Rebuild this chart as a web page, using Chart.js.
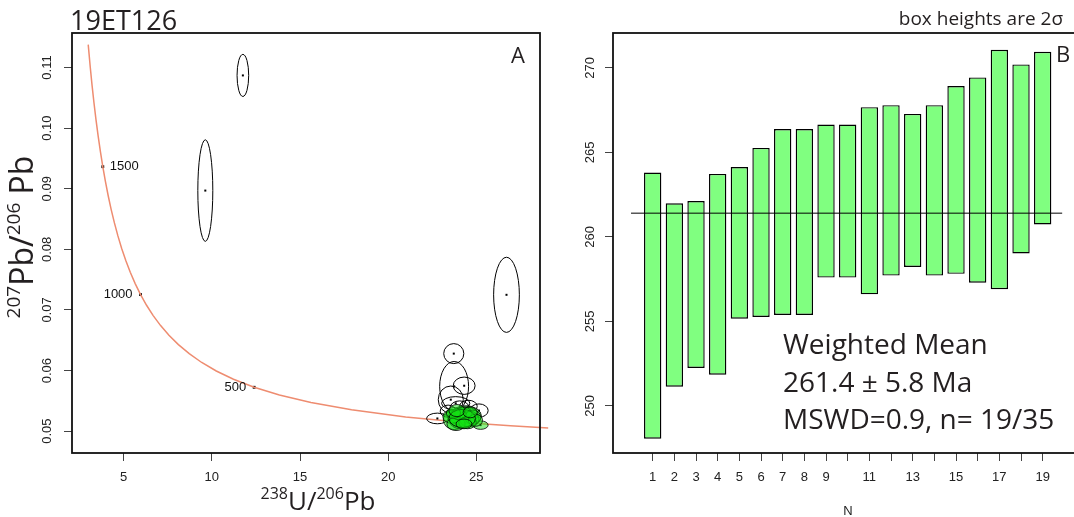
<!DOCTYPE html>
<html>
<head>
<meta charset="utf-8">
<script src="https://cdn.jsdelivr.net/npm/chart.js@4.4.0/dist/chart.umd.min.js"></script>
<style>
html, body { margin: 0; padding: 0; background: #fff; overflow: hidden; width: 1074px; height: 517px; }
#left { position: absolute; left: 0; top: 0; }
#right { position: absolute; left: 560px; top: 0; }
</style>
</head>
<body>
<canvas id="left" width="560" height="517"></canvas>
<canvas id="right" width="520" height="517"></canvas>
<script>
var sampleName = "19ET126";

// Tera-Wasserburg panel (A)
var xTicksTW = [5, 10, 15, 20, 25];
var yTicksTW = [0.05, 0.06, 0.07, 0.08, 0.09, 0.10, 0.11];
var concordiaAges = [1860, 1800, 1750, 1700, 1650, 1600, 1550, 1500, 1450, 1400, 1350, 1300, 1250, 1200,
    1150, 1100, 1050, 1000, 950, 900, 850, 800, 750, 700, 650, 600, 550, 500, 450, 400, 350, 300, 275, 250, 235, 218];
var ageMarks = [1500, 1000, 500];

// rejected analyses (open ellipses): centre and half-axes
var rejX  = [11.76, 9.63, 26.71, 23.72, 23.74, 24.31, 23.55, 22.79, 25.15, 23.83, 24.05, 24.55, 23.40];
var rejY  = [0.1087, 0.0897, 0.0725, 0.0628, 0.0574, 0.0575, 0.0552, 0.0521, 0.0534, 0.0546, 0.0538, 0.0541, 0.0533];
var rejSx = [0.33, 0.425, 0.73, 0.57, 0.82, 0.62, 0.71, 0.61, 0.52, 0.80, 0.55, 0.50, 0.45];
var rejSy = [0.00347, 0.00838, 0.0062, 0.00165, 0.0041, 0.00143, 0.00225, 0.00088, 0.0011, 0.0011, 0.0012, 0.0010, 0.0010];

// analyses used in the mean (green ellipses)
var accX  = [23.74, 24.39, 25.24, 24.39, 23.95, 24.10, 23.60, 24.60, 24.25, 23.85, 24.80, 24.00, 24.50, 23.70, 24.95, 24.20, 23.90, 24.65, 24.30];
var accY  = [0.0519, 0.0525, 0.0510, 0.0527, 0.0522, 0.0516, 0.0524, 0.0520, 0.0530, 0.0512, 0.0523, 0.0528, 0.0514, 0.0530, 0.0518, 0.0521, 0.0534, 0.0531, 0.0512];
var accSx = [0.61, 0.90, 0.43, 0.71, 0.55, 0.60, 0.50, 0.55, 0.48, 0.52, 0.45, 0.42, 0.50, 0.40, 0.40, 0.75, 0.45, 0.40, 0.45];
var accSy = [0.00165, 0.0017, 0.0007, 0.0013, 0.0014, 0.0012, 0.0011, 0.0013, 0.0010, 0.0011, 0.0012, 0.0009, 0.0010, 0.0009, 0.0010, 0.0015, 0.0010, 0.0009, 0.0008];

// weighted mean panel (B)
var grainN = [1, 2, 3, 4, 5, 6, 7, 8, 9, 10, 11, 12, 13, 14, 15, 16, 17, 18, 19];
var labelledN = [1, 2, 3, 4, 5, 6, 7, 8, 9, 11, 13, 15, 17, 19];
var boxLow  = [248.06, 251.13, 252.24, 251.84, 255.16, 255.26, 255.38, 255.38, 257.59, 257.59, 256.60, 257.71, 258.22, 257.71, 257.81, 257.29, 256.90, 259.02, 260.73];
var boxHigh = [263.80, 261.98, 262.12, 263.72, 264.13, 265.26, 266.38, 266.38, 266.64, 266.64, 267.67, 267.79, 267.27, 267.79, 268.92, 269.43, 271.07, 270.20, 270.95];
var yTicksWM = [250, 255, 260, 265, 270];
var meanAge = 261.4;
var meanErr = 5.8;
var mswd = 0.9;
var nUsed = 19;
var nTotal = 35;

// decay constants (1/Myr) and 238U/235U
var lambda238 = 1.55125e-4;
var lambda235 = 9.8485e-4;
var u238u235 = 137.818;

function twPoint(t) {
    var e8 = Math.exp(lambda238 * t) - 1;
    var e5 = Math.exp(lambda235 * t) - 1;
    return { x: 1 / e8, y: e5 / e8 / u238u235 };
}

var SANS = '"Open Sans", "Noto Sans", sans-serif';
var TICKFONT = { family: '"Liberation Sans", Arial, sans-serif', size: 13 };

// text with superscript pieces: parts = [[text, isSup], ...]
function richText(ctx, parts, size, x, y, align) {
    var supSize = Math.round(size * 0.6);
    var w = 0;
    parts.forEach(function (p) {
        ctx.font = (p[1] ? supSize : size) + 'px ' + SANS;
        w += ctx.measureText(p[0]).width;
    });
    var cx = align === 'center' ? x - w / 2 : x;
    ctx.textAlign = 'left';
    ctx.textBaseline = 'alphabetic';
    parts.forEach(function (p) {
        ctx.font = (p[1] ? supSize : size) + 'px ' + SANS;
        ctx.fillText(p[0], cx, p[1] ? y - size * 0.42 : y);
        cx += ctx.measureText(p[0]).width;
    });
}

function ellipse(ctx, xs, ys, cx, cy, sx, sy) {
    var px = xs.getPixelForValue(cx), py = ys.getPixelForValue(cy);
    var rx = Math.abs(xs.getPixelForValue(cx + sx) - px);
    var ry = Math.abs(ys.getPixelForValue(cy + sy) - py);
    ctx.beginPath();
    ctx.ellipse(px, py, rx, ry, 0, 0, Math.PI * 2);
}

function centreDot(ctx, xs, ys, cx, cy) {
    ctx.fillRect(xs.getPixelForValue(cx) - 1, ys.getPixelForValue(cy) - 1, 2, 2);
}

var twDecor = {
    id: 'twDecor',
    afterDatasetsDraw: function (chart) {
        var ctx = chart.ctx, xs = chart.scales.x, ys = chart.scales.y;
        ctx.save();
        ctx.lineWidth = 1;
        ctx.strokeStyle = '#000';
        rejX.forEach(function (v, i) {
            ellipse(ctx, xs, ys, v, rejY[i], rejSx[i], rejSy[i]);
            ctx.stroke();
        });
        ctx.fillStyle = '#000';
        rejX.forEach(function (v, i) { centreDot(ctx, xs, ys, v, rejY[i]); });
        accX.forEach(function (v, i) { centreDot(ctx, xs, ys, v, accY[i]); });
        accX.forEach(function (v, i) {
            ellipse(ctx, xs, ys, v, accY[i], accSx[i], accSy[i]);
            ctx.fillStyle = 'rgba(20, 225, 20, 0.5)';
            ctx.fill();
            ctx.lineWidth = 0.8;
            ctx.stroke();
        });

        // age labels beside the concordia marks
        ctx.fillStyle = '#111';
        ctx.font = '13px "Liberation Sans", Arial, sans-serif';
        ctx.textBaseline = 'middle';
        ageMarks.forEach(function (t, i) {
            var p = twPoint(t);
            var px = xs.getPixelForValue(p.x), py = ys.getPixelForValue(p.y);
            if (i === 0) {
                ctx.textAlign = 'left';
                ctx.fillText(String(t), px + 7, py);
            } else {
                ctx.textAlign = 'right';
                ctx.fillText(String(t), px - 8, py);
            }
        });
        ctx.restore();
    },
    afterDraw: function (chart) {
        var ctx = chart.ctx, a = chart.chartArea;
        ctx.save();
        ctx.strokeStyle = '#111';
        ctx.lineWidth = 1.8;
        ctx.strokeRect(a.left, a.top, a.right - a.left, a.bottom - a.top);

        ctx.fillStyle = '#231f20';
        ctx.font = '27px ' + SANS;
        ctx.textAlign = 'left';
        ctx.textBaseline = 'alphabetic';
        ctx.fillText(sampleName, a.left - 2, 30);

        ctx.font = '22px ' + SANS;
        ctx.textAlign = 'right';
        ctx.fillText('A', a.right - 15, 63);

        richText(ctx, [['238', true], ['U/', false], ['206', true], ['Pb', false]], 26, 318, 510, 'center');

        ctx.translate(33, 237);
        ctx.rotate(-Math.PI / 2);
        richText(ctx, [['207', true], ['Pb/', false], ['206', true], [' Pb', false]], 32, 0, 0, 'center');
        ctx.restore();
    }
};

var wmDecor = {
    id: 'wmDecor',
    afterDraw: function (chart) {
        var ctx = chart.ctx, a = chart.chartArea;
        ctx.save();
        ctx.strokeStyle = '#111';
        ctx.lineWidth = 1.8;
        ctx.strokeRect(a.left, a.top, a.right - a.left + 10, a.bottom - a.top);

        ctx.fillStyle = '#231f20';
        ctx.textBaseline = 'alphabetic';
        ctx.font = '19px ' + SANS;
        ctx.textAlign = 'right';
        ctx.fillText('box heights are 2\u03c3', 503, 25);

        ctx.font = '22px ' + SANS;
        ctx.textAlign = 'left';
        ctx.fillText('B', 496, 62);

        ctx.font = '28px ' + SANS;
        ctx.fillText('Weighted Mean', 223, 354);
        ctx.fillText(meanAge.toFixed(1) + ' \u00b1 ' + meanErr.toFixed(1) + ' Ma', 223, 392);
        ctx.fillText('MSWD=' + mswd + ', n= ' + nUsed + '/' + nTotal, 223, 429);

        ctx.font = '13px "Liberation Sans", Arial, sans-serif';
        ctx.textAlign = 'center';
        ctx.fillStyle = '#222';
        ctx.fillText('N', 288, 515);
        ctx.restore();
    }
};

var tickGrid = { drawOnChartArea: false, drawTicks: true, tickLength: 8, color: '#444', lineWidth: 1 };

function drawCharts() {
    new Chart(document.getElementById('left'), {
        type: 'scatter',
        data: {
            datasets: [{
                data: concordiaAges.map(twPoint),
                showLine: true,
                borderColor: '#ee8c70',
                borderWidth: 1.5,
                pointRadius: 0,
                clip: { left: 0, top: 0, right: 10, bottom: 0 }
            }, {
                data: ageMarks.map(twPoint),
                pointStyle: 'rect',
                pointRadius: 2,
                backgroundColor: '#000',
                borderWidth: 0
            }]
        },
        options: {
            responsive: false,
            animation: false,
            devicePixelRatio: 1,
            layout: { padding: { top: 33, right: 20, left: 0, bottom: 0 } },
            plugins: { legend: { display: false }, tooltip: { enabled: false } },
            scales: {
                x: {
                    type: 'linear', min: 2.07, max: 28.61,
                    afterBuildTicks: function (s) { s.ticks = xTicksTW.map(function (v) { return { value: v }; }); },
                    afterFit: function (s) { s.height = 64; },
                    grid: tickGrid,
                    border: { display: false },
                    ticks: { font: TICKFONT, color: '#222', padding: 9, autoSkip: false, maxRotation: 0 }
                },
                y: {
                    type: 'linear', min: 0.0464, max: 0.1157,
                    afterBuildTicks: function (s) { s.ticks = yTicksTW.map(function (v) { return { value: v }; }); },
                    afterFit: function (s) { s.width = 72; },
                    grid: tickGrid,
                    border: { display: false },
                    ticks: {
                        font: TICKFONT, color: '#222', padding: 4, autoSkip: false,
                        minRotation: 90, maxRotation: 90, crossAlign: 'center',
                        callback: function (v) { return v.toFixed(2); }
                    }
                }
            }
        },
        plugins: [twDecor]
    });

    new Chart(document.getElementById('right'), {
        type: 'bar',
        data: {
            datasets: [{
                type: 'line',
                data: [{ x: 0, y: meanAge }, { x: 19.9, y: meanAge }],
                borderColor: '#000',
                borderWidth: 1,
                pointRadius: 0,
                order: 0
            }, {
                type: 'bar',
                data: grainN.map(function (n, i) { return { x: n, y: [boxLow[i], boxHigh[i]] }; }),
                backgroundColor: '#80ff80',
                borderColor: '#000',
                borderWidth: 1.4,
                borderSkipped: false,
                barPercentage: 0.8,
                categoryPercentage: 1,
                order: 1
            }]
        },
        options: {
            responsive: false,
            animation: false,
            devicePixelRatio: 1,
            layout: { padding: { top: 33, right: 2, left: 0, bottom: 0 } },
            plugins: { legend: { display: false }, tooltip: { enabled: false } },
            scales: {
                x: {
                    type: 'linear', min: -0.832, max: 20.63, offset: false,
                    afterBuildTicks: function (s) { s.ticks = grainN.map(function (v) { return { value: v }; }); },
                    afterFit: function (s) { s.height = 64; },
                    grid: Object.assign({ offset: false }, tickGrid),
                    border: { display: false },
                    ticks: {
                        font: TICKFONT, color: '#222', padding: 9, autoSkip: false, maxRotation: 0,
                        callback: function (v) { return labelledN.indexOf(v) >= 0 ? String(v) : ''; }
                    }
                },
                y: {
                    type: 'linear', min: 247.21, max: 272.06,
                    afterBuildTicks: function (s) { s.ticks = yTicksWM.map(function (v) { return { value: v }; }); },
                    afterFit: function (s) { s.width = 53; },
                    grid: tickGrid,
                    border: { display: false },
                    ticks: {
                        font: TICKFONT, color: '#222', padding: 4, autoSkip: false,
                        minRotation: 90, maxRotation: 90, crossAlign: 'center'
                    }
                }
            }
        },
        plugins: [wmDecor]
    });
}

Promise.all([
    document.fonts.load('28px "Open Sans"'),
    document.fonts.load('13px "Liberation Sans"')
]).then(drawCharts, drawCharts);
</script>
</body>
</html>
